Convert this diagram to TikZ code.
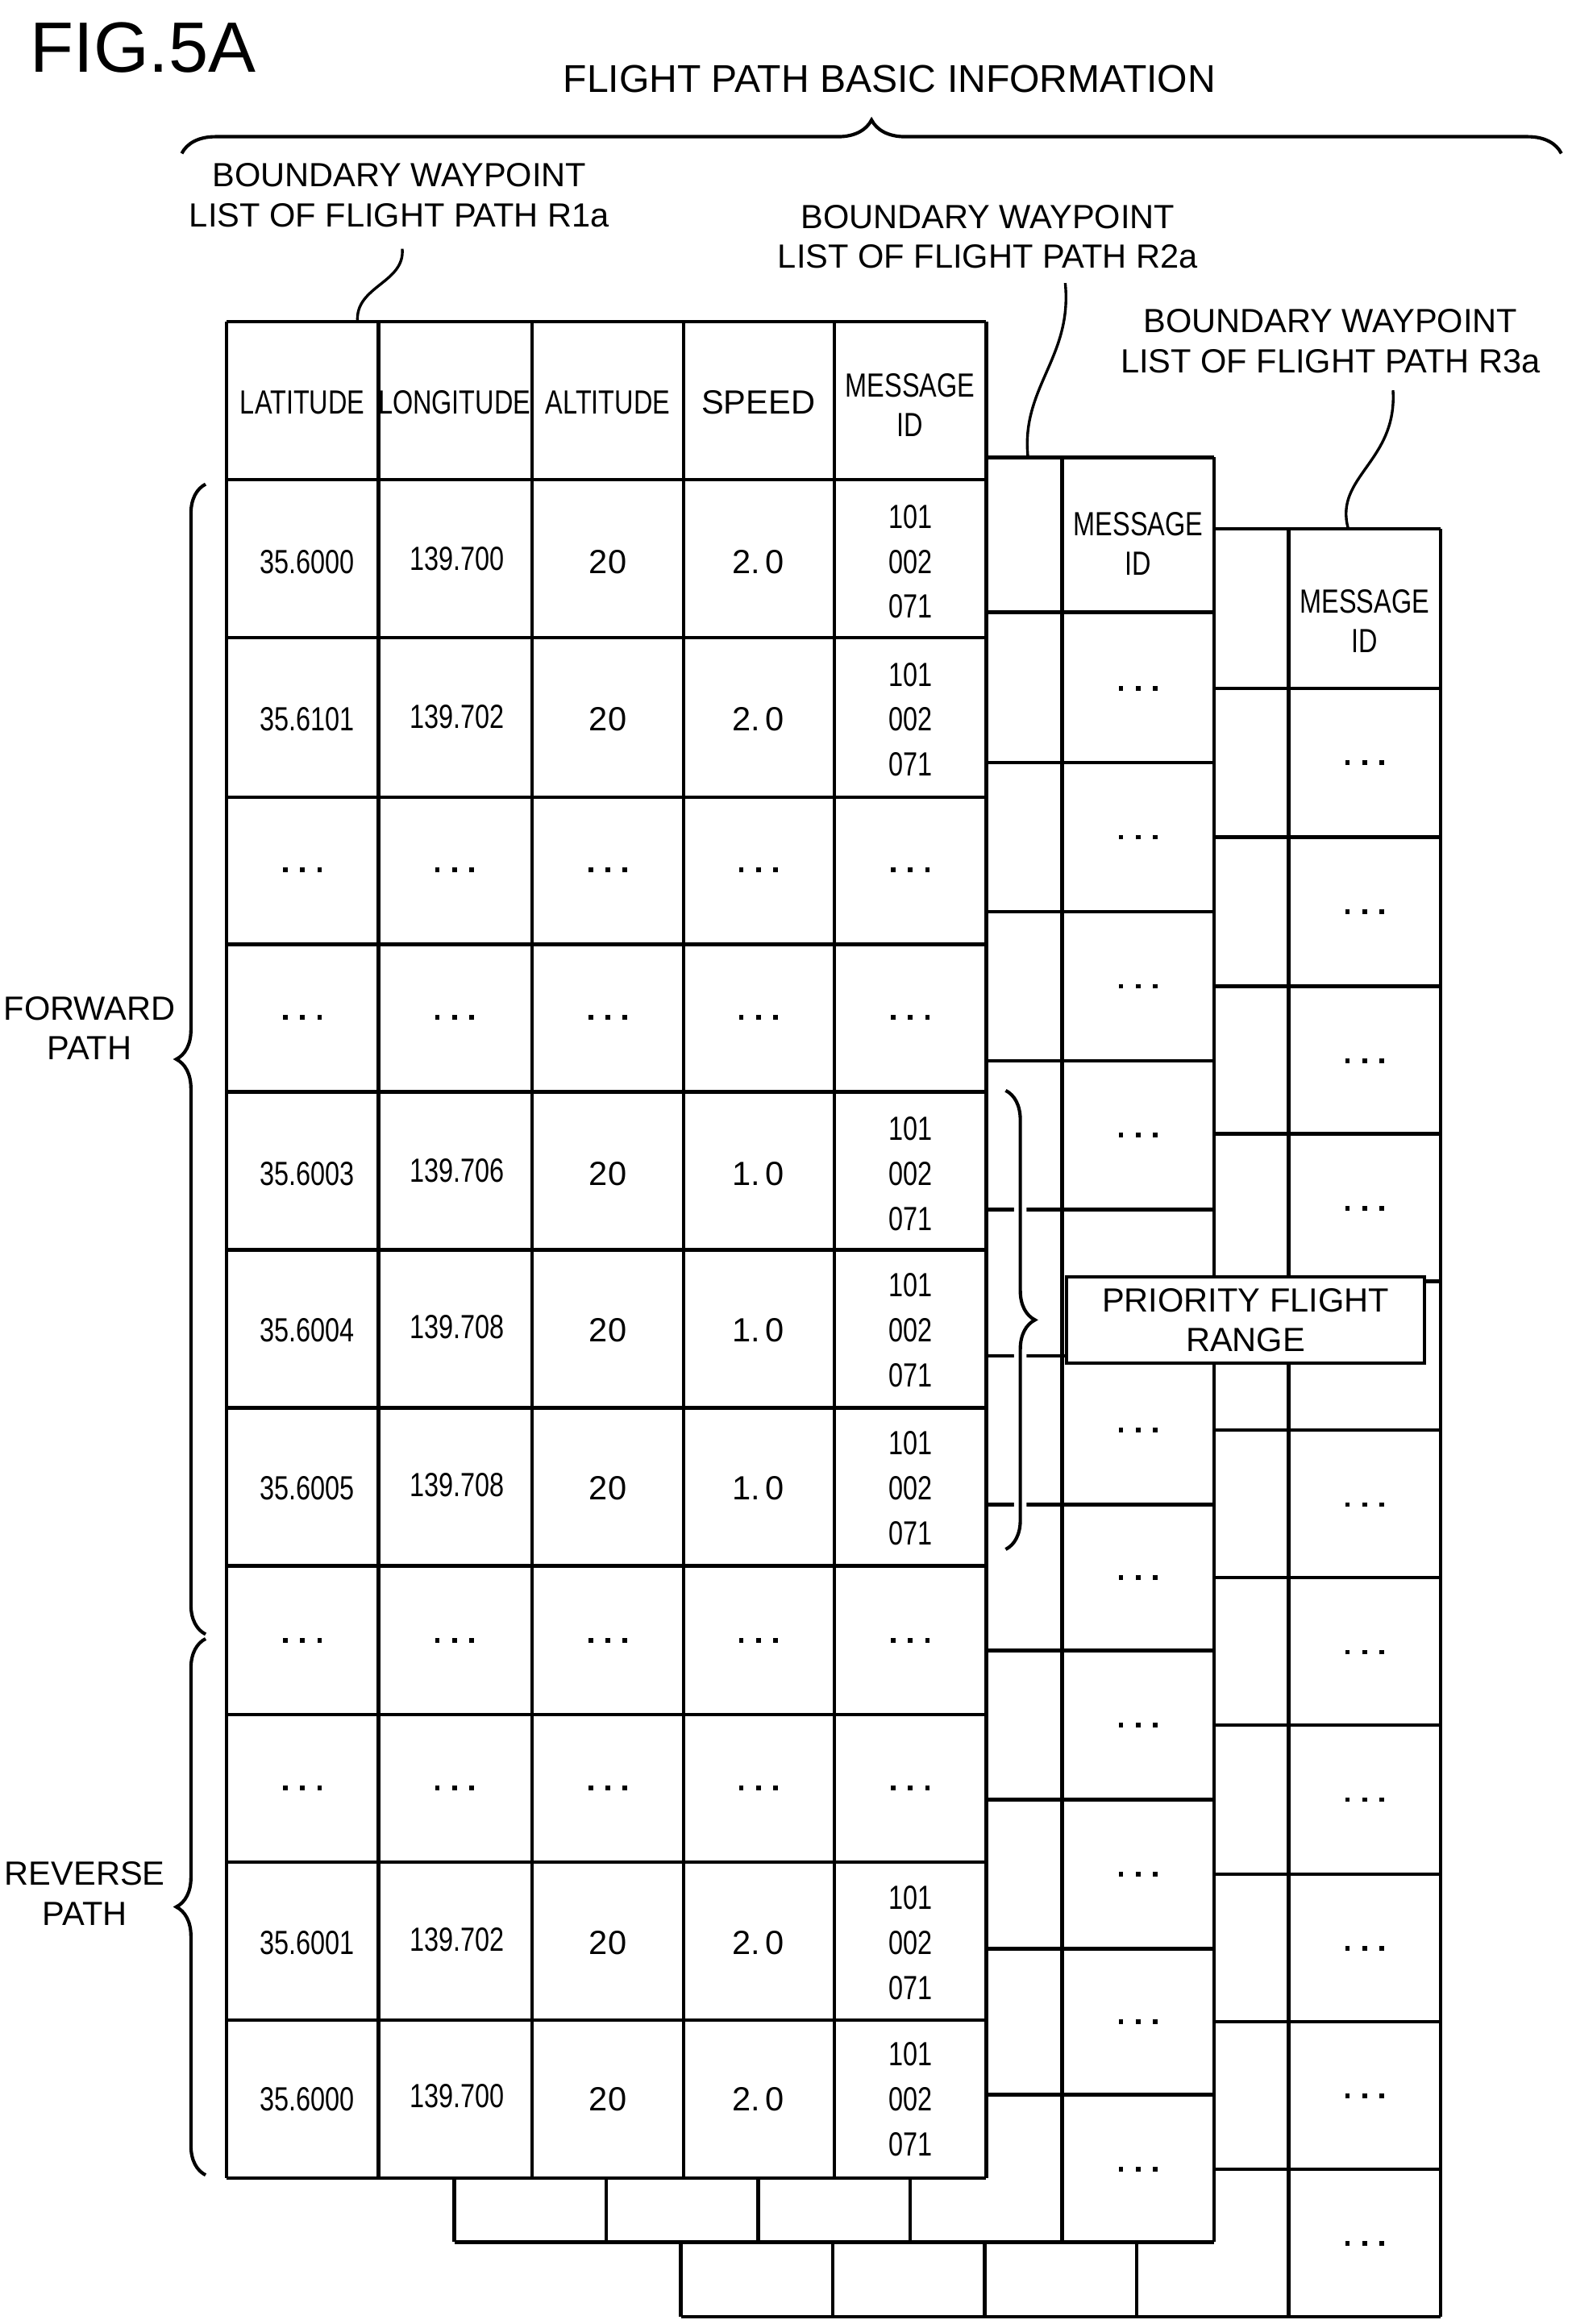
\documentclass[tikz,border=0pt]{standalone}
\usepackage{fontspec}
\setmainfont{Liberation Sans}
\usetikzlibrary{decorations.pathreplacing}
\newcommand\nw[1]{\scalebox{0.78}[1]{#1}}
\newcommand\dd{\rule{2.2pt}{2.2pt}\hspace{6pt}\rule{2.2pt}{2.2pt}\hspace{6pt}\rule{2.2pt}{2.2pt}}
\begin{document}
\begin{tikzpicture}[x=0.025cm,y=-0.025cm,
  tl/.style={line width=1.7pt},
  txt/.style={font=\fontsize{16}{19}\selectfont,align=center,inner sep=0pt},
  cell/.style={font=\fontsize{16}{21.5}\selectfont,align=center,inner sep=0pt},
  br/.style={line width=1.6pt,decorate,decoration={brace,amplitude=14pt}}]
\useasboundingbox (0,0) rectangle (1055,1560);
\fill[white] (0,0) rectangle (1055,1560);
% table 3
\fill[white] (457,355) rectangle (967,1555);
\foreach \y in {355,462,562,662,761,860,960,1059,1158,1258,1357,1456,1555} \draw[tl] (457,\y) -- (967,\y);
\foreach \x in {457,559,661,763,865,967} \draw[tl] (\x,355) -- (\x,1555);
\node[txt] (m3) at (916,417) {\nw{MESSAGE}\\\nw{ID}};
\foreach \y [count=\i] in {512,612,712,811,910,1010,1109,1208,1308,1407,1506} \node[txt] (d3\i) at (916,\y) {\dd};
% table 2
\fill[white] (305,307) rectangle (815,1505);
\foreach \y in {307,411,512,612,712,812,910,1010,1108,1208,1308,1406,1505} \draw[tl] (305,\y) -- (815,\y);
\foreach \x in {305,407,509,611,713,815} \draw[tl] (\x,307) -- (\x,1505);
\node[txt] (m2) at (764,365) {\nw{MESSAGE}\\\nw{ID}};
\foreach \y [count=\i] in {462,562,662,762,861,960,1059,1158,1258,1357,1456} \node[txt] (d2\i) at (764,\y) {\dd};
% table 1
\fill[white] (152,216) rectangle (662,1462);
\foreach \y in {216,322,428,535,634,733,839,945,1051,1151,1250,1356,1462} \draw[tl] (152,\y) -- (662,\y);
\foreach \x in {152,254,357,459,560,662} \draw[tl] (\x,216) -- (\x,1462);
\node[txt] (h1) at (203,270) {\nw{LATITUDE}};
\node[txt] (h2) at (305,270) {\nw{LONGITUDE}};
\node[txt] (h3) at (408,270) {\nw{ALTITUDE}};
\node[txt] (h4) at (509,270) {SPEED};
\node[txt] (h5) at (611,272) {\nw{MESSAGE}\\\nw{ID}};
\foreach \y/\a/\b/\c/\d [count=\i] in {377/35.6000/139.700/20/2.\,0, 483/35.6101/139.702/20/2.\,0, 788/35.6003/139.706/20/1.\,0, 893/35.6004/139.708/20/1.\,0, 999/35.6005/139.708/20/1.\,0, 1304/35.6001/139.702/20/2.\,0, 1409/35.6000/139.700/20/2.\,0} {
  \node[cell] (a\i) at (206,\y) {\nw{\a}};
  \node[cell] (b\i) at (307,\y-2) {\nw{\b}};
  \node[cell] (c\i) at (408,\y) {\c};
  \node[cell] (e\i) at (509,\y) {\d};
  \node[cell] (f\i) at (611,\y) {\nw{101}\\\nw{002}\\\nw{071}};
}
\foreach \y [count=\j] in {584,683,1101,1200} \foreach \x [count=\k] in {203,305,408,509,611} \node[txt] (g\j\k) at (\x,\y) {\dd};
% priority range
\draw[line width=6pt,white,decorate,decoration={brace,amplitude=14pt}] (675,732) -- (675,1040);
\draw[br] (675,732) -- (675,1040);
\draw[line width=1.7pt,fill=white] (716,857) rectangle (956,915);
\node[txt] (pfr) at (836,886) {PRIORITY FLIGHT\\RANGE};
% left braces
\draw[br] (138,1097) -- (138,325);
\draw[br] (138,1460) -- (138,1100);
\node[txt] (fw) at (60,690) {FORWARD\\PATH};
\node[txt] (rv) at (57,1271) {REVERSE\\PATH};
% top brace
\draw[br,decoration={brace,amplitude=16pt}] (122,103) -- (1048,103);
\node[txt,font=\fontsize{18.5}{22}\selectfont] (ti) at (597,53) {FLIGHT PATH BASIC INFORMATION};
\node[anchor=west,inner sep=0pt,font=\fontsize{34}{40}\selectfont] (fig) at (20,32) {FIG.5A};
% callouts
\node[txt] (l1) at (268,131) {BOUNDARY WAYPOINT\\LIST OF FLIGHT PATH R1a};
\node[txt] (l2) at (663,159) {BOUNDARY WAYPOINT\\LIST OF FLIGHT PATH R2a};
\node[txt] (l3) at (893,229) {BOUNDARY WAYPOINT\\LIST OF FLIGHT PATH R3a};
\coordinate (t1) at (240,216); \coordinate (t2) at (690,307); \coordinate (t3) at (905,355);
\draw[line width=1.3pt] (270,167) .. controls (272,190) and (238,192) .. (t1);
\draw[line width=1.3pt] (715,190) .. controls (720,240) and (685,260) .. (t2);
\draw[line width=1.3pt] (935,262) .. controls (938,310) and (895,320) .. (t3);
\end{tikzpicture}
\end{document}
